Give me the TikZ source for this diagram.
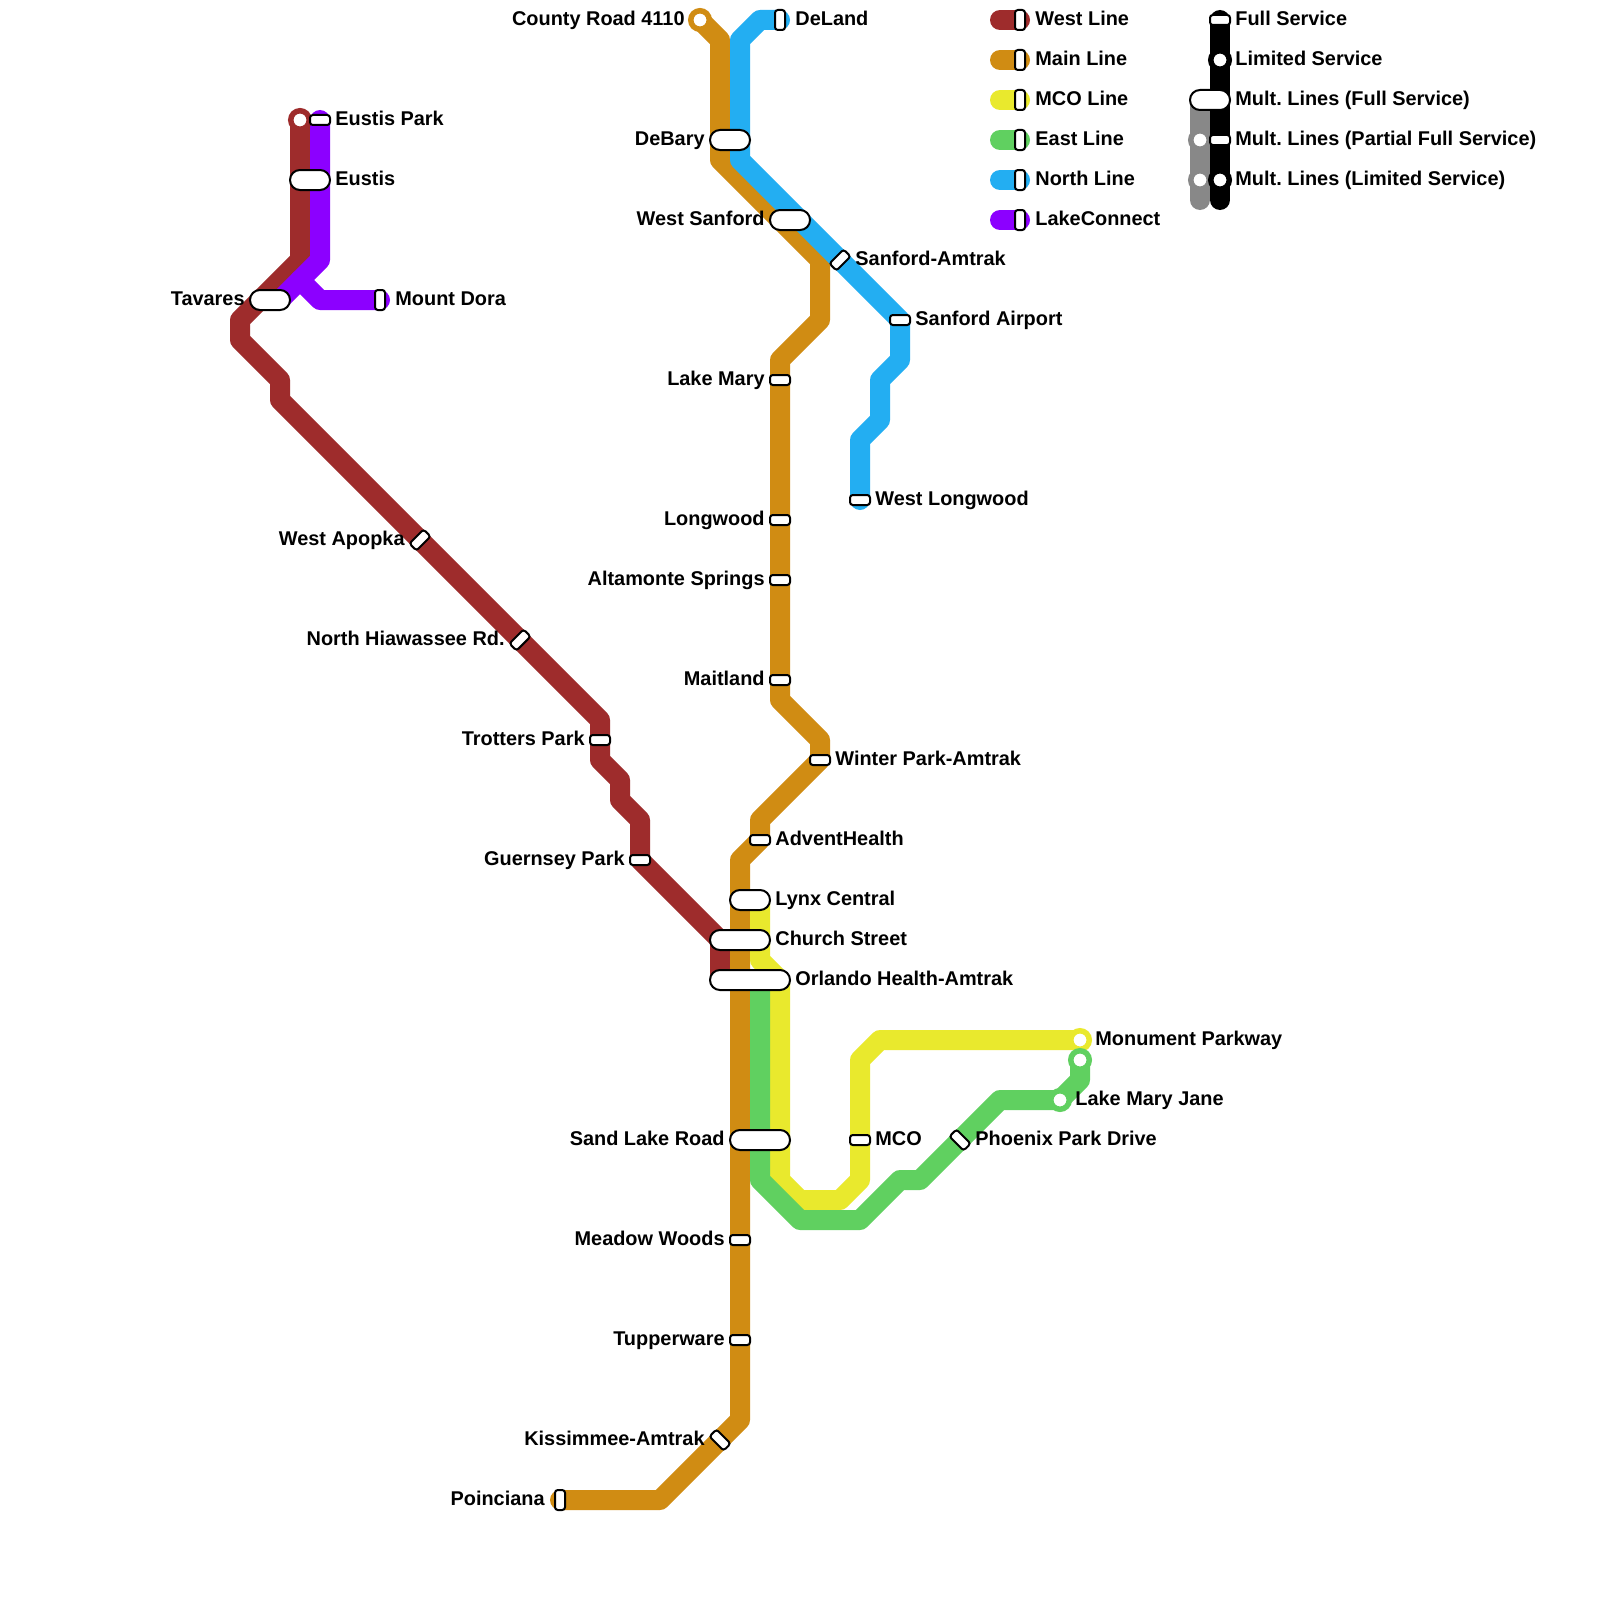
\documentclass[tikz,border=0pt]{standalone}
\usepackage{fontspec}
\setmainfont{Liberation Sans}
\definecolor{cwest}{HTML}{9E2C2C}
\definecolor{cmain}{HTML}{D08C13}
\definecolor{cmco}{HTML}{E9E92D}
\definecolor{ceast}{HTML}{60D060}
\definecolor{cnorth}{HTML}{23AEF2}
\definecolor{clake}{HTML}{8C00FF}
\definecolor{cgrey}{HTML}{888888}
\tikzset{
  route/.style={draw=#1,line width=10pt,line cap=round,line join=round},
  pillbox/.style={draw=black,fill=white,line width=1pt,inner sep=0pt,outer sep=0pt,minimum height=10pt,minimum width=#1,rounded corners=4.95pt},
  stopbox/.style={draw=black,fill=white,line width=1pt,inner sep=0pt,outer sep=0pt,minimum height=5pt,minimum width=10pt,rounded corners=1.4pt},
  endring/.style={circle,draw=#1,fill=white,line width=2.75pt,inner sep=0pt,outer sep=0pt,minimum size=9.25pt},
  lr/.style={anchor=base west,yshift=-0.5pt,inner sep=0pt,font=\fontsize{9.95pt}{12pt}\selectfont\bfseries\frenchspacing},
  ll/.style={anchor=base east,yshift=-0.5pt,inner sep=0pt,font=\fontsize{9.95pt}{12pt}\selectfont\bfseries\frenchspacing}
}
\begin{document}
\begin{tikzpicture}[x=0.5pt,y=-0.5pt]
\useasboundingbox (0,0) rectangle (1600,1600);
\fill[white] (0,0) rectangle (1600,1600);
% waypoints
\foreach \n/\x/\y in {
 w0/300/120,w1/300/260,w2/240/320,w3/240/340,w4/280/380,w5/280/400,w6/600/720,w7/600/760,w8/620/780,w9/620/800,w10/640/820,w11/640/860,w12/720/940,w13/720/980,
 m0/700/20,m1/720/40,m2/720/160,m3/820/260,m4/820/320,m5/780/360,m6/780/700,m7/820/740,m8/820/760,m9/760/820,m10/760/840,m11/740/860,m12/740/1420,m13/660/1500,m14/560/1500,
 y0/760/900,y1/760/960,y2/780/980,y3/780/1180,y4/800/1200,y5/840/1200,y6/860/1180,y7/860/1060,y8/880/1040,y9/1080/1040,
 e0/760/980,e1/760/1180,e2/800/1220,e3/860/1220,e4/900/1180,e5/920/1180,e6/1000/1100,e7/1060/1100,e8/1080/1080,e9/1080/1060,
 n0/780/20,n1/760/20,n2/740/40,n3/740/160,n4/900/320,n5/900/360,n6/880/380,n7/880/420,n8/860/440,n9/860/500,
 p0/320/120,p1/320/260,p2/280/300,p3/300/280,p4/320/300,p5/380/300,
 lg0/1220/20,lg1/1220/200,lg2/1200/100,lg3/1200/200}
 {\coordinate (\n) at (\x,\y);}
\foreach \r/\c in {0/cwest,1/cmain,2/cmco,3/ceast,4/cnorth,5/clake}{
 \coordinate (ka\r) at (1000,20+40*\r);
 \coordinate (kb\r) at (1020,20+40*\r);
 \draw[route=\c] (ka\r) -- (kb\r);
}
% routes
\draw[route=cwest] (w0)--(w1)--(w2)--(w3)--(w4)--(w5)--(w6)--(w7)--(w8)--(w9)--(w10)--(w11)--(w12)--(w13);
\draw[route=cmain] (m0)--(m1)--(m2)--(m3)--(m4)--(m5)--(m6)--(m7)--(m8)--(m9)--(m10)--(m11)--(m12)--(m13)--(m14);
\draw[route=cmco] (y0)--(y1)--(y2)--(y3)--(y4)--(y5)--(y6)--(y7)--(y8)--(y9);
\draw[route=ceast] (e0)--(e1)--(e2)--(e3)--(e4)--(e5)--(e6)--(e7)--(e8)--(e9);
\draw[route=cnorth] (n0)--(n1)--(n2)--(n3)--(n4)--(n5)--(n6)--(n7)--(n8)--(n9);
\draw[route=clake] (p0)--(p1)--(p2);
\draw[route=clake] (p3)--(p4)--(p5);
% service key lines
\draw[route=cgrey] (lg2)--(lg3);
\node[endring=cgrey] (sg1) at (1200,140) {};
\node[endring=cgrey] (sg2) at (1200,180) {};
\draw[route=black] (lg0)--(lg1);
% stations
\node[endring=cwest] (s1) at (w0) {};
\node[endring=cmain] (s2) at (m0) {};
\node[endring=cmco] (s3) at (y9) {};
\node[endring=ceast] (s4) at (e9) {};
\node[endring=ceast] (s5) at (e7) {};
\node[endring=black] (s6) at (1220,60) {};
\node[endring=black] (s7) at (1220,180) {};
\node[stopbox] (a1) at (320,120) {};
\node[pillbox=20pt] (a2) at (310,180) {};
\node[pillbox=20pt] (a3) at (270,300) {};
\node[stopbox,rotate=90] (a4) at (380,300) {};
\node[stopbox,rotate=45] (a5) at (420,540) {};
\node[stopbox,rotate=45] (a6) at (520,640) {};
\node[stopbox] (a7) at (600,740) {};
\node[stopbox] (a8) at (640,860) {};
\node[stopbox,rotate=90] (b1) at (780,20) {};
\node[pillbox=20pt] (b2) at (730,140) {};
\node[pillbox=20pt] (b3) at (790,220) {};
\node[stopbox,rotate=45] (b4) at (840,260) {};
\node[stopbox] (b5) at (900,320) {};
\node[stopbox] (b6) at (860,500) {};
\node[stopbox] (b7) at (780,380) {};
\node[stopbox] (b8) at (780,520) {};
\node[stopbox] (b9) at (780,580) {};
\node[stopbox] (b10) at (780,680) {};
\node[stopbox] (b11) at (820,760) {};
\node[stopbox] (b12) at (760,840) {};
\node[pillbox=20pt] (c1) at (750,900) {};
\node[pillbox=30pt] (c2) at (740,940) {};
\node[pillbox=40pt] (c3) at (750,980) {};
\node[pillbox=30pt] (c4) at (760,1140) {};
\node[stopbox] (c5) at (860,1140) {};
\node[stopbox,rotate=-45] (c6) at (960,1140) {};
\node[stopbox] (c7) at (740,1240) {};
\node[stopbox] (c8) at (740,1340) {};
\node[stopbox,rotate=-45] (c9) at (720,1440) {};
\node[stopbox,rotate=90] (c10) at (560,1500) {};
\foreach \r in {0,...,5}{\node[stopbox,rotate=90] (k\r) at (kb\r) {};}
\node[stopbox] (d1) at (1220,20) {};
\node[pillbox=20pt] (d2) at (1210,100) {};
\node[stopbox] (d3) at (1220,140) {};
% labels
\node[lr] (t1) at (335,124.5) {Eustis Park};
\node[lr] (t2) at (335,184.5) {Eustis};
\node[ll] (t3) at (245,304.5) {Tavares};
\node[lr] (t4) at (395,304.5) {Mount Dora};
\node[ll] (t5) at (405,544.5) {West Apopka};
\node[ll] (t6) at (505,644.5) {North Hiawassee Rd.};
\node[ll] (t7) at (585,744.5) {Trotters Park};
\node[ll] (t8) at (625,864.5) {Guernsey Park};
\node[ll] (t9) at (685,24.5) {County Road 4110};
\node[lr] (t10) at (795,24.5) {DeLand};
\node[ll] (t11) at (705,144.5) {DeBary};
\node[ll] (t12) at (765,224.5) {West Sanford};
\node[lr] (t13) at (855,264.5) {Sanford-Amtrak};
\node[lr] (t14) at (915,324.5) {Sanford Airport};
\node[lr] (t15) at (875,504.5) {West Longwood};
\node[ll] (t16) at (765,384.5) {Lake Mary};
\node[ll] (t17) at (765,524.5) {Longwood};
\node[ll] (t18) at (765,584.5) {Altamonte Springs};
\node[ll] (t19) at (765,684.5) {Maitland};
\node[lr] (t20) at (835,764.5) {Winter Park-Amtrak};
\node[lr] (t21) at (775,844.5) {AdventHealth};
\node[lr] (t22) at (775,904.5) {Lynx Central};
\node[lr] (t23) at (775,944.5) {Church Street};
\node[lr] (t24) at (795,984.5) {Orlando Health-Amtrak};
\node[lr] (t25) at (1095,1044.5) {Monument Parkway};
\node[lr] (t26) at (1075,1104.5) {Lake Mary Jane};
\node[lr] (t27) at (975,1144.5) {Phoenix Park Drive};
\node[lr] (t28) at (875,1144.5) {MCO};
\node[ll] (t29) at (725,1144.5) {Sand Lake Road};
\node[ll] (t30) at (725,1244.5) {Meadow Woods};
\node[ll] (t31) at (725,1344.5) {Tupperware};
\node[ll] (t32) at (705,1444.5) {Kissimmee-Amtrak};
\node[ll] (t33) at (545,1504.5) {Poinciana};
\node[lr] (u0) at (1035,24.5) {West Line};
\node[lr] (u1) at (1035,64.5) {Main Line};
\node[lr] (u2) at (1035,104.5) {MCO Line};
\node[lr] (u3) at (1035,144.5) {East Line};
\node[lr] (u4) at (1035,184.5) {North Line};
\node[lr] (u5) at (1035,224.5) {LakeConnect};
\node[lr] (v0) at (1235,24.5) {Full Service};
\node[lr] (v1) at (1235,64.5) {Limited Service};
\node[lr] (v2) at (1235,104.5) {Mult. Lines (Full Service)};
\node[lr] (v3) at (1235,144.5) {Mult. Lines (Partial Full Service)};
\node[lr] (v4) at (1235,184.5) {Mult. Lines (Limited Service)};
\end{tikzpicture}
\end{document}
